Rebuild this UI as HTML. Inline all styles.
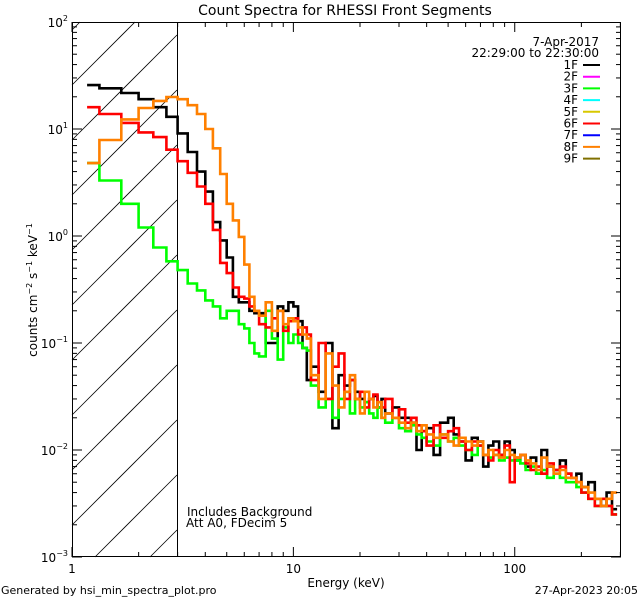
<!DOCTYPE html>
<html><head><meta charset="utf-8"><style>
html,body{margin:0;padding:0;background:#fff;width:640px;height:600px;overflow:hidden;}
svg{display:block;font-family:"DejaVu Sans","Liberation Sans",sans-serif;}
</style></head><body>
<svg id="chart" width="640" height="600" viewBox="0 0 640 600" xmlns="http://www.w3.org/2000/svg">
<rect x="0" y="0" width="640" height="600" fill="#fff"/>
<text x="345" y="15" font-size="14" text-anchor="middle">Count Spectra for RHESSI Front Segments</text>
<defs><clipPath id="pclip"><rect x="72" y="22" width="549" height="535"/></clipPath></defs>
<g id="hatch"></g>
<line x1="177.5" y1="22" x2="177.5" y2="557" stroke="#000" stroke-width="1"/>
<g id="series" clip-path="url(#pclip)"></g>
<g id="axes"></g>
<text transform="translate(37,290) rotate(-90)" font-size="12" text-anchor="middle">counts cm<tspan font-size="8" dy="-5">−2</tspan><tspan dy="5"> s</tspan><tspan font-size="8" dy="-5">−1</tspan><tspan dy="5"> keV</tspan><tspan font-size="8" dy="-5">−1</tspan></text>
<text x="346" y="587" font-size="12" text-anchor="middle">Energy (keV)</text>
<text x="187" y="516" font-size="12">Includes Background</text>
<text x="186" y="527" font-size="12">Att A0, FDecim 5</text>
<text x="1" y="594" font-size="11">Generated by hsi_min_spectra_plot.pro</text>
<text x="638" y="594" font-size="11" text-anchor="end">27-Apr-2023 20:05</text>
<text x="599" y="46" font-size="12" text-anchor="end">7-Apr-2017</text>
<text x="599" y="57" font-size="12" text-anchor="end">22:29:00 to 22:30:00</text>
<g id="legend"></g>
</svg>
<script>
const edges = [1.17,1.33,1.67,2,2.33,2.67,3,3.33,3.67,4,4.33,4.67,5,5.33,5.67,6,6.33,6.67,7,7.5,8,8.5,9,9.5,10,10.5,11,11.5,12,13,14,15,16,17,18,19,20,21,22,23,24,25,26,28,30,32,34,36,38,40,43,46,50,53,56,60,64,68,72,76,80,85,90,95,100,106,112,118,125,132,140,150,160,170,180,190,200,215,230,245,260,275,290];
const seg1F = [25.7,24,21.7,19,16,13, 9.1,6.1,4.0,2.6,1.35,0.91,0.63,0.27,0.24, 0.24,0.2,0.19,0.19,0.1,0.1,0.22,0.2,0.24,0.22,0.16,0.09,0.045, 0.06,0.035,0.1,0.016,0.05,0.04,0.045,0.035,0.03,0.028,0.03,0.032,0.025,0.03, 0.022,0.025,0.02,0.02,0.018,0.01,0.015, 0.016,0.009,0.018,0.02,0.014,0.012,0.008,0.013,0.012,0.007,0.011,0.012,0.009,0.012,0.01, 0.008,0.009,0.007,0.0085,0.006,0.01,0.007,0.0065,0.008,0.006,0.0055,0.006, 0.0045,0.005,0.0035,0.003,0.004,0.0028];
const seg3F = [4.8,3.3,2.0,1.2,0.78,0.58, 0.48,0.36,0.31,0.25,0.22,0.17,0.2,0.2,0.15, 0.137,0.1,0.08,0.075,0.2,0.11,0.07,0.14,0.1,0.12,0.1,0.09,0.085, 0.04,0.025,0.03,0.02,0.03,0.035,0.022,0.03,0.025,0.028,0.022,0.02,0.025,0.02, 0.018,0.02,0.016,0.015,0.017,0.014,0.013, 0.012,0.011,0.014,0.012,0.013,0.011,0.01,0.009,0.011,0.009,0.0085,0.009,0.008,0.0085,0.008, 0.008,0.0075,0.0065,0.007,0.006,0.0065,0.0055,0.006,0.0055,0.005,0.005,0.0045, 0.004,0.0035,0.003,0.0035,0.003,0.0025];
const seg6F = [16,13.8,11.4,9.3,8.4,6.4, 5.0,3.9,2.9,2.0,1.14,0.56,0.45,0.33,0.27, 0.26,0.22,0.2,0.15,0.14,0.17,0.2,0.13,0.16,0.17,0.12,0.14,0.12, 0.045,0.1,0.03,0.06,0.08,0.03,0.045,0.03,0.035,0.025,0.03,0.033,0.028,0.025, 0.03,0.02,0.024,0.018,0.02,0.017,0.015, 0.011,0.017,0.013,0.015,0.016,0.012,0.01,0.012,0.011,0.009,0.008,0.01,0.009,0.011,0.005, 0.0085,0.009,0.0075,0.0065,0.007,0.006,0.0075,0.0065,0.007,0.006,0.0055,0.005, 0.004,0.0035,0.003,0.0035,0.003,0.0025];
const seg8F = [4.8,7.9,12.3,15.7,18.3,19.9, 19,16.7,13.8,10,6.6,3.8,2.0,1.4,0.98, 0.54,0.27,0.2,0.18,0.24,0.13,0.2,0.15,0.17,0.16,0.14,0.12,0.11, 0.05,0.03,0.08,0.04,0.025,0.035,0.05,0.03,0.022,0.035,0.03,0.025,0.028,0.02, 0.022,0.02,0.018,0.016,0.018,0.015,0.017, 0.014,0.013,0.014,0.012,0.011,0.013,0.012,0.011,0.012,0.009,0.01,0.009,0.0085,0.01,0.009, 0.0085,0.009,0.008,0.0075,0.0065,0.0085,0.007,0.006,0.0065,0.0055,0.0055,0.005, 0.0045,0.004,0.0035,0.003,0.0035,0.004];
const legendLabels = ["1F","2F","3F","4F","5F","6F","7F","8F","9F"];
const legendColors = ["#000000","#ff00ff","#00ff00","#00ffff","#d8c800","#ff0000","#0000ff","#ff8000","#807000"];
const yTickExps = [-3,-2,-1,0,1,2];
const xTickLabels = ["1","10","100"];
const xTickValues = [1,10,100];

const NS="http://www.w3.org/2000/svg";
const L=72,R=621,T=22,B=557;
const xMinLog=0, xMaxLog=Math.log10(302);
const yMinLog=-3, yMaxLog=2;
function xs(e){return L+(Math.log10(e)-xMinLog)/(xMaxLog-xMinLog)*(R-L);}
function ys(v){return B-(Math.log10(v)-yMinLog)/(yMaxLog-yMinLog)*(B-T);}
function mk(tag,attrs,parent){const el=document.createElementNS(NS,tag);for(const k in attrs)el.setAttribute(k,attrs[k]);parent.appendChild(el);return el;}

// hatch lines clipped manually to x [72,177], y [22,557]; line: y = y0 - (x-72)
const hatch=document.getElementById('hatch');
const HX0=72,HX1=177;
for(let i=-4;i<12;i++){
  const y0=85+i*55;
  let xa=HX0, xb=HX1;
  // y within [T,B]: y0-(x-72) <= B -> x >= 72+y0-B ; >= T -> x <= 72+y0-T
  xa=Math.max(xa,72+y0-B);
  xb=Math.min(xb,72+y0-T);
  if(xb<=xa) continue;
  const ln=mk('line',{x1:xa,y1:y0-(xa-72),x2:xb,y2:y0-(xb-72),stroke:'#000','stroke-width':0.8},hatch);
  
  
}

const sg=document.getElementById('series');
const seriesList=[[seg1F,'#000000','series-1f'],[seg3F,'#00ff00','series-3f'],[seg6F,'#ff0000','series-6f'],[seg8F,'#ff8000','series-8f']];
seriesList.forEach(([vals,col,name])=>{
  let d='';
  for(let i=0;i<vals.length;i++){
    const x0=xs(edges[i]).toFixed(1),x1=xs(edges[i+1]).toFixed(1),y=ys(vals[i]).toFixed(1);
    d+=(i===0?'M':'L')+x0+','+y+'L'+x1+','+y;
  }
  const p=mk('path',{d:d,fill:'none',stroke:col,'stroke-width':2.6,'stroke-linejoin':'miter'},sg);
  
  
});

const ax=document.getElementById('axes');
const frame=mk('rect',{x:L+0.5,y:T+0.5,width:R-L-1,height:B-T-1,fill:'none',stroke:'#000','stroke-width':1},ax);


for(let e=yMinLog;e<yMaxLog;e++){
  for(let m=1;m<10;m++){
    const y=ys(m*Math.pow(10,e));const len=m===1?10:5;
    const t1=mk('line',{x1:L,y1:y,x2:L+len,y2:y,stroke:'#000'},ax);
    
    
    const t2=mk('line',{x1:R-len,y1:y,x2:R,y2:y,stroke:'#000'},ax);
    
    
  }
}
yTickExps.forEach(e=>{
  const y=ys(Math.pow(10,e));
  const t=mk('text',{x:L-4,y:y+5,'font-size':12,'text-anchor':'end'},ax);
  
  
  t.innerHTML='10<tspan font-size="8" dy="-6">'+(e<0?'−'+(-e):e)+'</tspan>';
});
for(let d=0;d<3;d++){
  for(let m=1;m<10;m++){
    const v=m*Math.pow(10,d);if(v>302)break;
    const x=xs(v);const len=m===1?10:5;
    const t1=mk('line',{x1:x,y1:B,x2:x,y2:B-len,stroke:'#000'},ax);
    
    
    const t2=mk('line',{x1:x,y1:T,x2:x,y2:T+len,stroke:'#000'},ax);
    
    
  }
}
xTickValues.forEach((v,i)=>{
  const t=mk('text',{x:xs(v),y:B+16,'font-size':12,'text-anchor':'middle'},ax);
  
  
  t.textContent=xTickLabels[i];
});

const lg=document.getElementById('legend');
legendLabels.forEach((lab,i)=>{
  const y=65+i*11.7;
  const t=mk('text',{x:578,y:y+4,'font-size':12,'text-anchor':'end'},lg);
  
  
  t.textContent=lab;
  const l=mk('line',{x1:583,y1:y,x2:600,y2:y,stroke:legendColors[i],'stroke-width':2},lg);
  
  
});
</script>
</body></html>
